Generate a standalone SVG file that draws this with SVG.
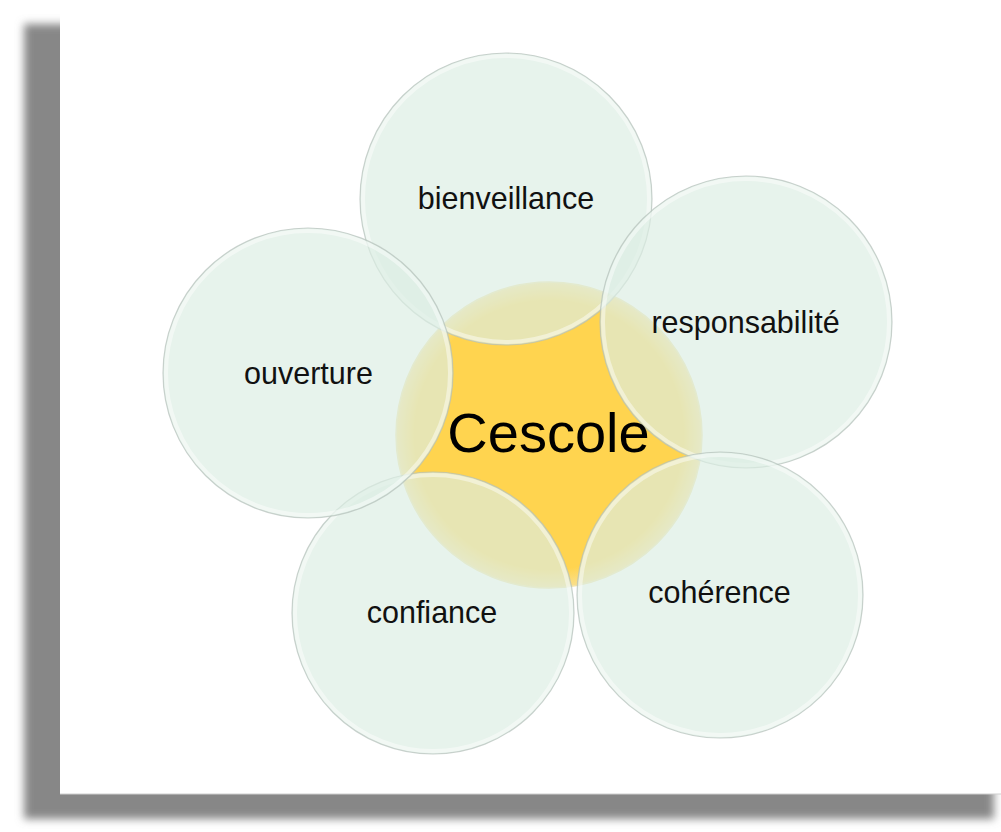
<svg xmlns="http://www.w3.org/2000/svg" width="1001" height="832" viewBox="0 0 1001 832">
<defs>
<filter id="sh" x="-5%" y="-5%" width="110%" height="110%"><feGaussianBlur stdDeviation="4"/></filter>
<radialGradient id="cg" cx="0.5" cy="0.5" r="0.5">
<stop offset="0.88" stop-color="#FFD44F"/>
<stop offset="1" stop-color="#F9E08E"/>
</radialGradient>
<style>
.sat{fill:#dcede3;fill-opacity:0.68;stroke:#b4bfb9;stroke-opacity:0.7;stroke-width:1.2}
.rim{fill:none;stroke:#ffffff;stroke-opacity:0.45;stroke-width:4}
.lbl{font-family:"Liberation Sans",Arial,sans-serif;font-size:30.5px;fill:#111;text-anchor:middle}
</style>
</defs>
<rect x="0" y="0" width="1001" height="832" fill="#ffffff"/>
<rect x="24" y="24" width="970" height="795" fill="#878787" filter="url(#sh)"/>
<rect x="60" y="0" width="941" height="794" fill="#ffffff"/>
<line x1="60" y1="794" x2="1001" y2="794" stroke="#cfcfcf" stroke-width="1"/>
<g id="center">
<circle cx="549" cy="435" r="153" fill="url(#cg)" stroke="#f3e3a6" stroke-width="1.5"/>
</g>
<g id="bienveillance">
<circle class="sat" cx="506" cy="199" r="146"/>
<circle class="rim" cx="506" cy="199" r="143"/>
</g>
<g id="responsabilite">
<circle class="sat" cx="746" cy="322" r="146"/>
<circle class="rim" cx="746" cy="322" r="143"/>
</g>
<g id="coherence">
<circle class="sat" cx="720" cy="595" r="143"/>
<circle class="rim" cx="720" cy="595" r="140"/>
</g>
<g id="confiance">
<circle class="sat" cx="433" cy="613" r="141"/>
<circle class="rim" cx="433" cy="613" r="138"/>
</g>
<g id="ouverture">
<circle class="sat" cx="308" cy="373" r="145"/>
<circle class="rim" cx="308" cy="373" r="142"/>
</g>
<g id="labels">
<text x="548.5" y="452" font-family="Liberation Sans, Arial, sans-serif" font-size="56" fill="#000" text-anchor="middle">Cescole</text>
<text class="lbl" x="506" y="209">bienveillance</text>
<text class="lbl" x="745.5" y="333">responsabilité</text>
<text class="lbl" x="308.5" y="384">ouverture</text>
<text class="lbl" x="432" y="623">confiance</text>
<text class="lbl" x="719.5" y="603">cohérence</text>
</g>
</svg>
